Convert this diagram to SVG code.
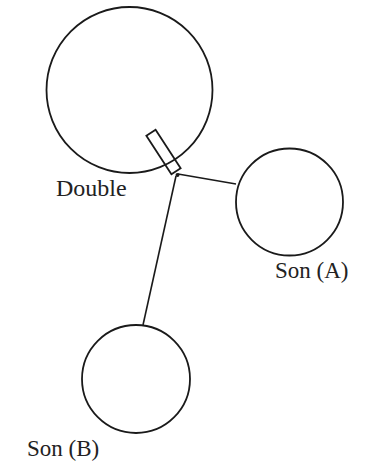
<svg xmlns="http://www.w3.org/2000/svg" width="385" height="465" viewBox="0 0 385 465">
  <style>
    .ring { fill: none; stroke: #1a1a1a; stroke-width: 1.8; }
    .link { fill: none; stroke: #1a1a1a; stroke-width: 1.6; }
    .label { font-family: "Liberation Serif", "Times New Roman", serif; font-size: 23px; fill: #222; }
  </style>
  <rect width="385" height="465" fill="#fff"/>

  <g id="connectors">
    <line class="link" x1="178" y1="174" x2="236" y2="184"/>
    <line class="link" x1="176" y1="176" x2="143" y2="325"/>
  </g>

  <g id="double">
    <circle class="ring" cx="129.5" cy="90" r="83"/>
    <rect class="ring" x="-5.5" y="-23" width="11" height="46" fill="#fff" transform="translate(163.5 152) rotate(-33)"/>
    <circle cx="177.5" cy="175" r="2" fill="#1a1a1a"/>
    <text class="label" x="56" y="196" style="font-size:24px">Double</text>
  </g>

  <g id="son-a">
    <circle class="ring" cx="289.5" cy="202" r="53.5"/>
    <text class="label" x="275" y="278">Son (A)</text>
  </g>

  <g id="son-b">
    <circle class="ring" cx="136" cy="379" r="54"/>
    <text class="label" x="27" y="456">Son (B)</text>
  </g>
</svg>
